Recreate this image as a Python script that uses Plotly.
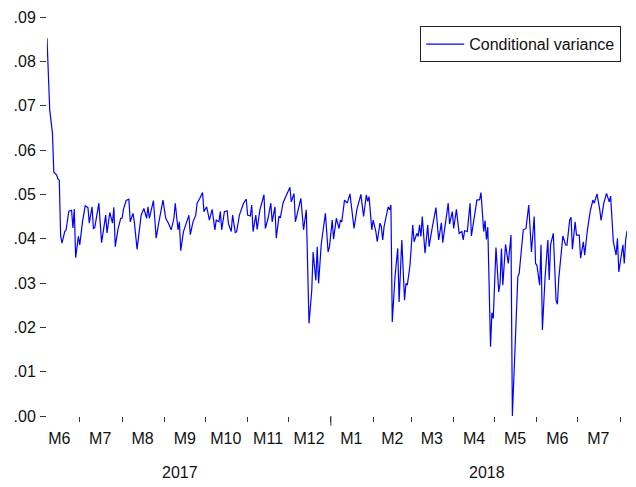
import pandas as pd
import plotly.graph_objects as go

start_date = "2017-06-07"
days = [0, 1, 2, 4, 5, 7, 8, 9, 10, 11, 13, 14, 16, 18, 19, 20, 21, 23, 24, 26, 28, 30, 31, 33, 34, 35,
        38, 40, 43, 44, 46, 48, 49, 50, 52, 54, 55, 56, 58, 60, 61, 63, 64, 66, 68, 69,
        71, 73, 74, 75, 78, 80, 82, 85, 87, 89, 91, 93, 94, 96, 97, 98, 100, 102, 104, 105, 107, 109,
        110, 112, 114, 115, 117, 119, 121, 123, 124, 126, 127, 128, 130, 132, 133, 135, 136, 138, 139, 141,
        143, 144, 146, 147, 149, 150, 151, 153, 154, 156, 159, 160, 162, 164, 165, 167, 168, 170, 171, 173,
        175, 178, 179, 181, 182, 186, 188, 190, 192, 194, 195, 197, 198, 199, 201, 204, 206, 207, 209, 210,
        212, 214, 215, 216, 218, 220, 222, 224, 225, 227, 230, 232, 234, 235, 236, 238, 239, 241, 242, 244,
        245, 246, 247, 250, 251, 252, 253, 255, 257, 258, 260, 262, 263, 264, 266, 268, 269, 271, 272, 273,
        274, 275, 277, 279, 280, 282,
        285, 287, 289, 290, 292, 294, 295, 297, 298, 300, 302, 304, 305, 306, 308, 310, 311, 314, 315, 317,
        318, 320, 321, 322, 323, 325, 326, 327, 328, 329, 331, 332, 333, 334, 336, 338, 340, 341, 343, 345,
        346, 348, 349, 351,
        352, 353, 355, 357, 358, 359, 361, 362, 363, 365, 367, 368, 369, 371, 373, 374, 375, 378, 380, 381,
        383, 384, 385, 387, 388, 390, 391, 393, 394, 396, 398, 400, 401, 403, 405, 406, 408, 410, 412, 413,
        415, 417, 418, 419, 420, 422, 423, 424, 425]
cond_var = [.0852, .0743, .0690, .0638, .0550, .0544, .0535, .0532, .0406, .0390, .0416, .0420, .0462, .0464, .0424, .0467, .0357, .0405, .0386, .0438, .0474, .0470, .0435, .0472, .0423, .0425,
            .0480, .0391, .0453, .0413, .0459, .0435, .0471, .0382, .0421, .0446, .0446, .0466, .0486, .0489, .0438, .0457, .0438, .0376, .0438, .0453,
            .0468, .0446, .0472, .0446, .0486, .0401, .0438, .0487, .0446, .0435, .0420, .0446, .0480, .0420, .0438, .0373, .0416, .0433, .0453, .0409, .0438, .0453,
            .0480, .0491, .0504, .0461, .0472, .0442, .0466, .0420, .0442, .0438, .0461, .0420, .0461, .0463, .0433, .0416, .0453, .0413, .0416, .0453,
            .0472, .0480, .0489, .0453, .0451, .0476, .0416, .0453, .0421, .0465, .0499, .0423, .0446, .0480, .0438, .0472, .0401, .0451, .0447, .0481,
            .0495, .0516, .0483, .0502, .0438, .0491, .0420, .0465, .0209, .0283, .0370, .0306, .0382, .0299, .0389, .0457, .0370, .0382, .0442, .0399,
            .0446, .0423, .0442, .0438, .0487, .0480, .0501, .0446, .0423, .0465, .0500, .0450, .0499, .0484, .0495, .0420, .0442, .0416, .0393, .0435,
            .0427, .0397, .0427, .0472, .0465, .0476, .0212, .0314, .0378, .0257, .0397, .0261, .0299, .0295, .0340, .0431, .0393, .0412, .0405, .0431,
            .0405, .0450, .0367, .0431, .0382, .0420,
            .0470, .0397, .0436, .0391, .0431, .0480, .0433, .0461, .0423, .0466, .0412, .0416, .0397, .0418, .0416, .0480, .0406, .0468, .0487, .0488,
            .0504, .0416, .0441, .0398, .0426, .0156, .0233, .0220, .0284, .0380, .0280, .0300, .0378, .0295, .0387, .0344, .0408, .0000, .0156, .0314,
            .0322, .0382, .0420, .0423,
            .0446, .0476, .0370, .0450, .0344, .0340, .0295, .0386, .0194, .0314, .0397, .0307, .0386, .0412, .0261, .0252, .0310, .0406, .0386, .0385,
            .0442, .0448, .0376, .0438, .0408, .0408, .0356, .0393, .0363, .0420, .0461, .0487, .0480, .0501, .0466, .0441, .0480, .0502, .0483, .0496,
            .0393, .0363, .0401, .0325, .0346, .0386, .0344, .0397, .0417]

month_tick_dates = ["2017-06-16", "2017-07-16", "2017-08-16", "2017-09-16", "2017-10-16", "2017-11-16",
                    "2017-12-16", "2018-01-16", "2018-02-15", "2018-03-16", "2018-04-16", "2018-05-16",
                    "2018-06-16", "2018-07-16"]
month_labels = ["M6", "M7", "M8", "M9", "M10", "M11", "M12", "M1", "M2", "M3", "M4", "M5", "M6", "M7"]
year_labels = ["2017", "2018"]
y_tick_vals = [0, .01, .02, .03, .04, .05, .06, .07, .08, .09]
y_tick_text = [".00", ".01", ".02", ".03", ".04", ".05", ".06", ".07", ".08", ".09"]

dates = pd.Timestamp(start_date) + pd.to_timedelta(days, unit="D")

FONT = "Arial, Liberation Sans, Helvetica, sans-serif"

fig = go.Figure()
fig.add_trace(go.Scatter(x=dates, y=cond_var, mode="lines", name="Conditional variance",
                         line=dict(color="#0000ff", width=1.2)))

fig.update_layout(
    width=636, height=487,
    margin=dict(l=47, r=9, t=17, b=71, autoexpand=False),
    paper_bgcolor="white", plot_bgcolor="white",
    font=dict(family=FONT, size=16, color="#111111"),
    showlegend=True,
    legend=dict(x=0.99, y=0.977, xanchor="right", yanchor="top",
                bordercolor="#222222", borderwidth=1, bgcolor="white",
                font=dict(size=16), itemwidth=38,
                tracegroupgap=0),
)
fig.update_xaxes(
    type="date",
    range=[dates[0], dates[-1]],
    tickmode="array", tickvals=month_tick_dates, ticktext=month_labels,
    ticks="", ticklabelstandoff=11, automargin=False,
    showgrid=False, zeroline=False, showline=False,
    tickfont=dict(size=16),
    minor=dict(ticks="outside", ticklen=5, tickcolor="#333333", tickwidth=1,
               dtick="M1", tick0="2017-07-01", showgrid=False),
)
fig.update_yaxes(
    range=[0, 0.09],
    tickmode="array", tickvals=y_tick_vals, ticktext=y_tick_text,
    ticks="outside", ticklen=6, tickcolor="#333333", tickwidth=1,
    ticklabelstandoff=1, automargin=False,
    showgrid=False, zeroline=False, showline=False,
    tickfont=dict(size=16),
)
# longer tick at the year boundary
fig.add_shape(type="line", xref="x", yref="paper", x0="2018-01-01", x1="2018-01-01",
              y0=0, y1=-0.024, line=dict(color="#333333", width=1))
# year labels below month labels
for label, xpos in zip(year_labels, [0.2298, 0.759]):
    fig.add_annotation(text=label, xref="paper", yref="paper", x=xpos, y=-0.141,
                       xanchor="center", yanchor="middle", showarrow=False,
                       font=dict(size=16, family=FONT, color="#111111"))

fig.write_html("out.html", config={"displayModeBar": False},
               post_script="document.body.style.margin='0';document.body.style.overflow='hidden';")
